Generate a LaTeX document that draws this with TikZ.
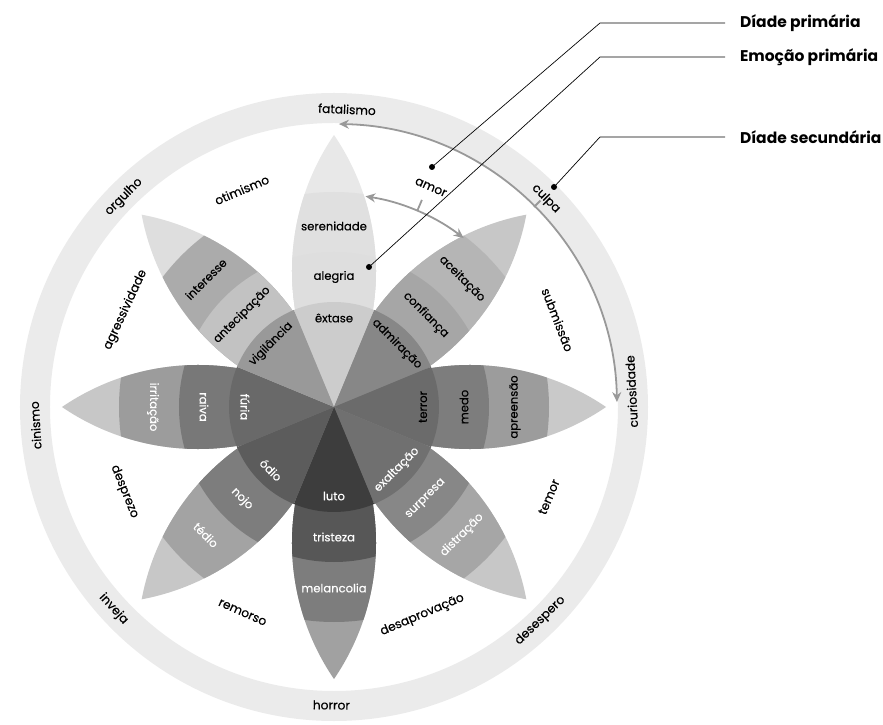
\documentclass[tikz,border=0pt]{standalone}
\usepackage{fontspec}
\setmainfont{Poppins}
\newfontfamily\wheelfont[FakeBold=0.35]{Poppins}
\usetikzlibrary{arrows.meta}

\tikzset{
  petaltext/.style={font=\wheelfont\fontsize{11.6}{13}\selectfont, inner sep=0pt},
  dyadtext/.style={font=\wheelfont\fontsize{12.2}{14}\selectfont, inner sep=0pt, text=black},
  keytext/.style={font=\bfseries\fontsize{15.5}{17}\selectfont, anchor=west, inner xsep=0pt, outer xsep=15pt},
  leader/.style={draw=black, line width=0.7pt},
  keydot/.style={circle, fill=black, inner sep=0pt, minimum size=6pt},
  cyclearrow/.style={draw=black!40, line width=1.8pt, {Stealth[length=10pt,width=9pt]}-{Stealth[length=10pt,width=9pt]}},
  tickmark/.style={draw=black!40, line width=1.8pt}
}

% angle / tip / outer band / middle band / core / labels / text colour / label rotation
\def\petals{
 90/black!9/black!12/black!13/black!20/serenidade/alegria/êxtase/black/0,
 45/black!22/black!29/black!35/black!47/aceitação/confiança/admiração/black/-45,
 0/black!21/black!39/black!51/black!58/apreensão/medo/terror/black/90,
 -45/black!22/black!35/black!47/black!56/distração/surpresa/exaltação/white/45,
 -90/black!37/black!51/black!66/black!76/melancolia/tristeza/luto/white/0,
 -135/black!22/black!36/black!51/black!64/tédio/nojo/ódio/white/-45,
 180/black!22/black!39/black!53/black!59/irritação/raiva/fúria/white/-90,
 135/black!13/black!33/black!24/black!40/interesse/antecipação/vigilância/black/45}

\begin{document}
\begin{tikzpicture}[x=1pt,y=1pt]
\useasboundingbox (-334,-318) rectangle (549,407);
% outer ring:
\path[fill=black!8, even odd rule] (0,0) circle[radius=314] (0,0) circle[radius=284];
% petals:
\foreach \ang/\ctip/\cout/\cmid/\ccore/\lout/\lmid/\lcore/\tc/\rot in \petals {
  \begin{scope}[rotate=\ang-90]
    \clip (0,0) arc[start angle=-34.33, end angle=34.33, radius=241.2]
          arc[start angle=145.67, end angle=214.33, radius=241.2] -- cycle;
    \path[fill=\ctip] (0,0) circle[radius=280];
    \path[fill=\cout] (0,0) circle[radius=215];
    \path[fill=\cmid] (0,0) circle[radius=155];
  \end{scope}
}
% core sectors and petal labels:
\foreach \ang/\ctip/\cout/\cmid/\ccore/\lout/\lmid/\lcore/\tc/\rot [count=\i] in \petals {
  \path[fill=\ccore] (0,0) -- (\ang-22.5:105) arc[start angle=\ang-22.5, end angle=\ang+22.5, radius=105] -- cycle;
  \node[petaltext, text=\tc, rotate=\rot] (core\i) at (\ang:89) {\lcore};
  \node[petaltext, text=\tc, rotate=\rot] (mid\i) at (\ang:130) {\lmid};
  \node[petaltext, text=\tc, rotate=\rot] (out\i) at (\ang:181) {\lout};
}
% primary dyads:
\node[dyadtext, rotate=-68.7] (submissao) at (21.3:240) {submissão};
\node[dyadtext, rotate=-23.8] (amor) at (66.2:240) {amor};
\node[dyadtext, rotate=23] (otimismo) at (113:236) {otimismo};
\node[dyadtext, rotate=65] (agressividade) at (155:230) {agressividade};
\node[dyadtext, rotate=-68] (desprezo) at (-158:226) {desprezo};
\node[dyadtext, rotate=-24] (remorso) at (-114:225) {remorso};
\node[dyadtext, rotate=23] (desaprovacao) at (-67:226) {desaprovação};
\node[dyadtext, rotate=67.3] (temor) at (-22.7:233) {temor};
% secondary dyads on the ring:
\node[dyadtext, rotate=-2.5] (fatalismo) at (87.5:298) {fatalismo};
\node[dyadtext, rotate=-45.5] (culpa) at (44.5:297) {culpa};
\node[dyadtext, rotate=93] (curiosidade) at (3:298) {curiosidade};
\node[dyadtext, rotate=44] (desespero) at (-46:297) {desespero};
\node[dyadtext, rotate=-0.5] (horror) at (-90.5:298) {horror};
\node[dyadtext, rotate=-47.5] (inveja) at (-137.5:299) {inveja};
\node[dyadtext, rotate=93.5] (cinismo) at (183.5:299) {cinismo};
\node[dyadtext, rotate=45] (orgulho) at (135:297) {orgulho};
% cycle arrows:
\coordinate (bigstart) at (89:283);
\coordinate (bigmid) at (45:283);
\coordinate (bigtick) at (45:292);
\path[cyclearrow] (bigstart) arc[start angle=89, end angle=1, radius=283];
\path[tickmark] (bigmid) -- (bigtick);
\coordinate (smallstart) at (81.5:213);
\coordinate (smallmid) at (67:213);
\coordinate (smalltick) at (67:225);
\path[cyclearrow] (smallstart) arc[start angle=81.5, end angle=52.5, radius=213];
\path[tickmark] (smallmid) -- (smalltick);
% key:
\node[keytext] (keyDP) at (391,384) {Díade primária};
\node[keytext] (keyEP) at (391,350) {Emoção primária};
\node[keytext] (keyDS) at (391,270) {Díade secundária};
\node[keydot] (dotDP) at (98,240) {};
\node[keydot] (dotEP) at (35,140) {};
\node[keydot] (dotDS) at (220,220) {};
\coordinate (bendDP) at (266,384);
\coordinate (bendEP) at (266,350);
\coordinate (bendDS) at (266,270);
\path[leader] (dotDP.center) -- (bendDP) -- (keyDP.west);
\path[leader] (dotEP.center) -- (bendEP) -- (keyEP.west);
\path[leader] (dotDS.center) -- (bendDS) -- (keyDS.west);
\end{tikzpicture}
\end{document}
